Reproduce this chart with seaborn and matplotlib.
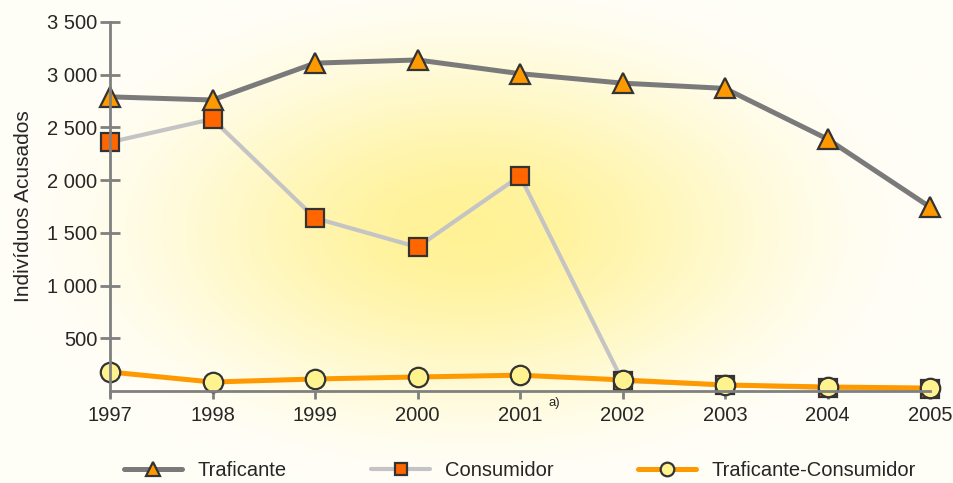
import numpy as np
import pandas as pd
import matplotlib.pyplot as plt
import seaborn as sns

# data
years = [1997, 1998, 1999, 2000, 2001, 2002, 2003, 2004, 2005]
traficante = [2790, 2760, 3110, 3140, 3010, 2920, 2870, 2390, 1745]
consumidor = [2360, 2580, 1640, 1365, 2040, 95, 57, 28, 22]
trafic_consum = [180, 85, 114, 133, 150, 105, 57, 38, 28]
series_names = ["Traficante", "Consumidor", "Traficante-Consumidor"]
yticks = [500, 1000, 1500, 2000, 2500, 3000, 3500]

df = pd.DataFrame({"Ano": years,
                   "Traficante": traficante,
                   "Consumidor": consumidor,
                   "Traficante-Consumidor": trafic_consum})

sns.set_style("white")
plt.rcParams["font.family"] = ["Liberation Sans", "DejaVu Sans"]

fig = plt.figure(figsize=(9.54, 4.83), dpi=100)
fig.patch.set_facecolor("#FFFEF6")

# radial yellow glow behind everything
bg = fig.add_axes([0, 0, 1, 1], zorder=0)
gx, gy = np.meshgrid(np.linspace(0, 954, 400), np.linspace(0, 483, 200))
r = np.sqrt(((gx - 470) / 460) ** 2 + ((gy - 230) / 260) ** 2)
t = np.clip(1 - r, 0, 1)
t = t * t * (3 - 2 * t)
c0 = np.array([255, 254, 246]) / 255
c1 = np.array([255, 242, 150]) / 255
img = c0[None, None, :] * (1 - t[..., None]) + c1[None, None, :] * t[..., None]
bg.imshow(img, extent=[0, 954, 483, 0], aspect="auto")
bg.set_xlim(0, 954)
bg.set_ylim(483, 0)
bg.axis("off")

ax = fig.add_axes([110 / 954, 1 - 391 / 483, 820 / 954, (391 - 22) / 483], zorder=1)
ax.patch.set_alpha(0)

styles = {
    "Traficante": dict(color="#7A7A7A", marker="^", markerfacecolor="#FF9900", ms=15, lw=3.6),
    "Consumidor": dict(color="#C4C4C4", marker="s", markerfacecolor="#FF6600", ms=13, lw=3.0),
    "Traficante-Consumidor": dict(color="#FF9900", marker="o", markerfacecolor="#FFF38F", ms=14, lw=3.6),
}
for name in series_names:
    st = styles[name]
    sns.lineplot(data=df, x="Ano", y=name, ax=ax, color=st["color"], linewidth=st["lw"],
                 marker=st["marker"], markersize=st["ms"], markerfacecolor=st["markerfacecolor"],
                 markeredgecolor="#333333", markeredgewidth=1.6, label=name, clip_on=False)

ax.set_xlim(1997, 2005)
ax.set_ylim(0, 3500)
ax.set_xticks(years)
ax.set_yticks(yticks)
ax.set_yticklabels([f"{v:,}".replace(",", " ") for v in yticks])
ax.set_xlabel("")
ax.set_ylabel("Indivíduos Acusados", fontsize=15, labelpad=10)
for s in ["top", "right"]:
    ax.spines[s].set_visible(False)
for s in ["left", "bottom"]:
    ax.spines[s].set_color("#808080")
    ax.spines[s].set_linewidth(2)
ax.spines["left"].set_bounds(-45, 3500)
ax.tick_params(axis="y", left=True, direction="inout", length=14, width=2, color="#808080",
               labelsize=14.5, pad=2)
ax.tick_params(axis="x", bottom=True, direction="out", length=6, width=2, color="#808080",
               labelsize=14.5, pad=5)
ax.text(2001.33, -110, "a)", fontsize=9.5, ha="center", va="center")

leg = ax.legend(loc="center", bbox_to_anchor=(0.5, -0.215), ncol=3, frameon=False,
                fontsize=14.5, handlelength=2.9, handletextpad=0.75, columnspacing=4.2,
                markerscale=0.7)

fig.savefig("out.png", dpi=100, facecolor=fig.get_facecolor())
